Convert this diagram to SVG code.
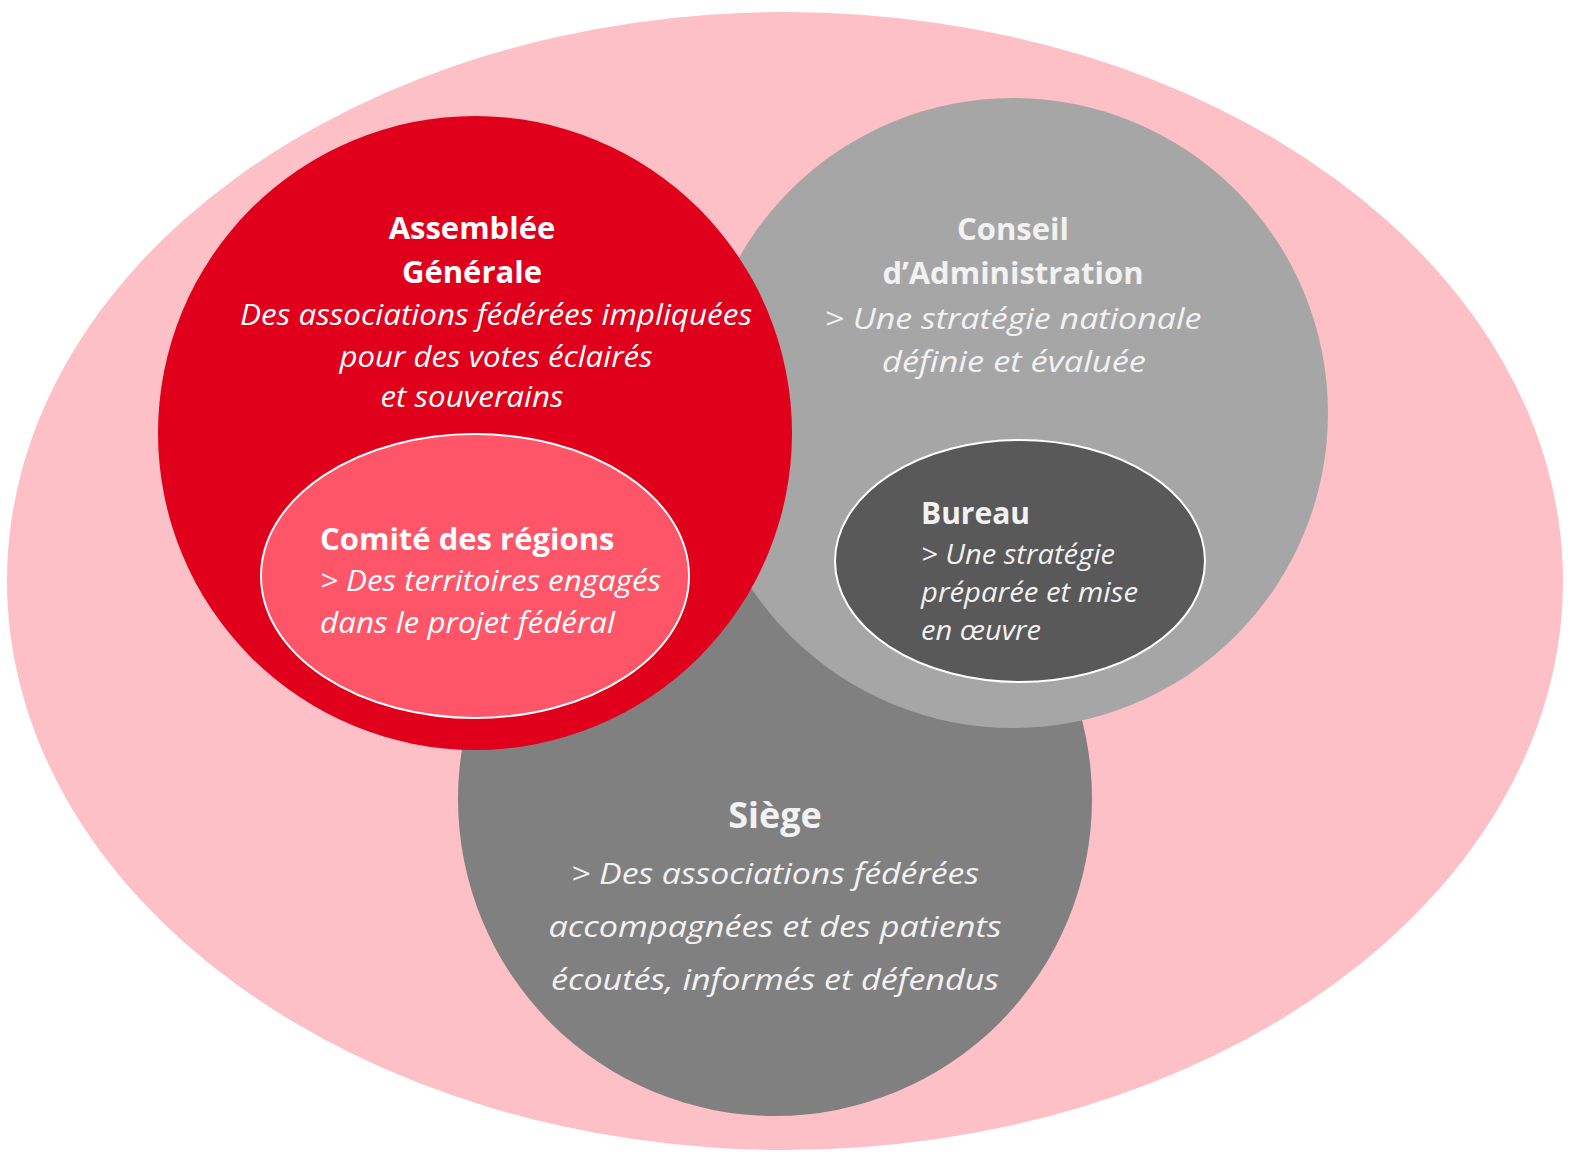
<svg xmlns="http://www.w3.org/2000/svg" width="1588" height="1164" viewBox="0 0 1588 1164">
<style>
text{font-family:"Open Sans","Noto Sans","Liberation Sans",sans-serif;fill:#ffffff}
.t{font-weight:700;font-size:31px}
.i{font-style:italic;font-size:29px}
.m{text-anchor:middle}
.g{fill:#f2f2f2}
</style>
<rect width="1588" height="1164" fill="#ffffff"/>
<g id="federation">
<ellipse cx="785" cy="581" rx="778" ry="569" fill="#fdc0c7"/>
</g>
<g id="siege">
<circle cx="775" cy="799" r="317" fill="#808080"/>
<text class="t m g" x="775" y="828" style="font-size:36px">Siège</text>
<text class="i m g" x="775" y="884" textLength="408" lengthAdjust="spacingAndGlyphs">&gt; Des associations fédérées</text>
<text class="i m g" x="775" y="937" textLength="453" lengthAdjust="spacingAndGlyphs">accompagnées et des patients</text>
<text class="i m g" x="775" y="990" textLength="448" lengthAdjust="spacingAndGlyphs">écoutés, informés et défendus</text>
</g>
<g id="conseil">
<circle cx="1013" cy="413" r="315" fill="#a6a6a6"/>
<text class="t m g" x="1013" y="240">Conseil</text>
<text class="t m g" x="1013" y="284">d’Administration</text>
<text class="i m g" x="1013" y="329" textLength="377" lengthAdjust="spacingAndGlyphs">&gt; Une stratégie nationale</text>
<text class="i m g" x="1014" y="372" textLength="264" lengthAdjust="spacingAndGlyphs">définie et évaluée</text>
</g>
<g id="bureau">
<ellipse cx="1020" cy="561" rx="185" ry="121" fill="#595959" stroke="#ffffff" stroke-width="2"/>
<text class="t g" x="921" y="524" style="font-size:30px">Bureau</text>
<text class="i g" x="921" y="564" style="font-size:27px" textLength="194" lengthAdjust="spacingAndGlyphs">&gt; Une stratégie</text>
<text class="i g" x="921" y="602" style="font-size:27px" textLength="217" lengthAdjust="spacingAndGlyphs">préparée et mise</text>
<text class="i g" x="921" y="640" style="font-size:27px" textLength="120" lengthAdjust="spacingAndGlyphs">en œuvre</text>
</g>
<g id="assemblee">
<circle cx="475" cy="433" r="317" fill="#e0001b"/>
<text class="t m" x="472" y="239">Assemblée</text>
<text class="t m" x="472" y="283">Générale</text>
<text class="i m" x="496" y="325" textLength="512" lengthAdjust="spacingAndGlyphs">Des associations fédérées impliquées</text>
<text class="i m" x="496" y="367" textLength="313" lengthAdjust="spacingAndGlyphs">pour des votes éclairés</text>
<text class="i m" x="472" y="407" textLength="183" lengthAdjust="spacingAndGlyphs">et souverains</text>
</g>
<g id="comite">
<ellipse cx="475" cy="576" rx="214" ry="142" fill="#ff5569" stroke="#ffffff" stroke-width="2"/>
<text class="t" x="320" y="550" style="font-size:31px">Comité des régions</text>
<text class="i" x="320" y="591" textLength="341" lengthAdjust="spacingAndGlyphs">&gt; Des territoires engagés</text>
<text class="i" x="320" y="633" textLength="295" lengthAdjust="spacingAndGlyphs">dans le projet fédéral</text>
</g>
<g id="connectors"></g>
</svg>
